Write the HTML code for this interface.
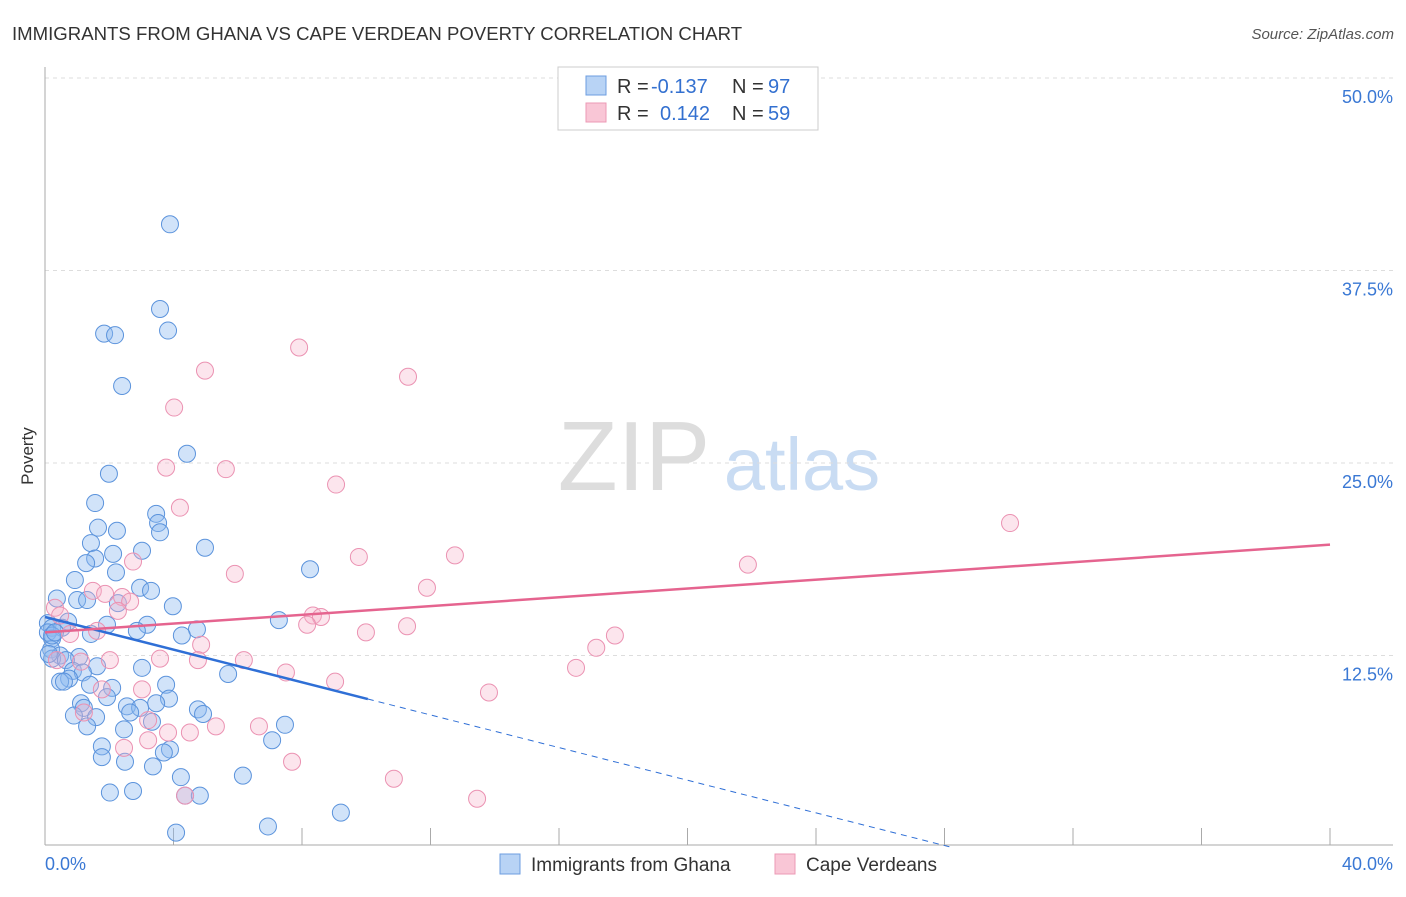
<!DOCTYPE html>
<html><head><meta charset="utf-8"><style>
body{margin:0;background:#fff;font-family:"Liberation Sans",sans-serif;}
svg text{font-family:"Liberation Sans",sans-serif;}
</style></head><body>
<svg id="chart" width="1406" height="892" xmlns="http://www.w3.org/2000/svg">
<text x="12" y="40" font-size="18.6" fill="#333">IMMIGRANTS FROM GHANA VS CAPE VERDEAN POVERTY CORRELATION CHART</text>
<text x="1394" y="39" font-size="15" fill="#555" text-anchor="end" font-style="italic">Source: ZipAtlas.com</text>
<text x="33" y="456" font-size="17" fill="#333" transform="rotate(-90 33 456)" text-anchor="middle">Poverty</text>
<g><text x="634" y="490" font-size="98" fill="#ddd" text-anchor="middle" font-family="Liberation Serif">ZIP</text><text x="802" y="490" font-size="74" fill="#c9dcf3" text-anchor="middle">atlas</text></g>
<g id="grid"></g><g id="ticks"></g><g id="pts"></g><g id="trend"></g>
<g>
<rect x="558" y="67" width="260" height="63" fill="#fff" stroke="#ccc"/>
<rect x="586" y="76" width="20" height="19" fill="#b8d3f5" stroke="#6d9ee0"/>
<rect x="586" y="103" width="20" height="19" fill="#f9c6d6" stroke="#ec9ab5"/>
<text x="617" y="93" font-size="20" fill="#333">R =</text>
<text x="651" y="93" font-size="20" fill="#3370d0">-0.137</text>
<text x="732" y="93" font-size="20" fill="#333">N =</text>
<text x="768" y="93" font-size="20" fill="#3370d0">97</text>
<text x="617" y="120" font-size="20" fill="#333">R =</text>
<text x="660" y="120" font-size="20" fill="#3370d0">0.142</text>
<text x="732" y="120" font-size="20" fill="#333">N =</text>
<text x="768" y="120" font-size="20" fill="#3370d0">59</text>
</g>
<g>
<rect x="500" y="854" width="20" height="20" fill="#b8d3f5" stroke="#6d9ee0"/>
<text x="531" y="871" font-size="19" fill="#333">Immigrants from Ghana</text>
<rect x="775" y="854" width="20" height="20" fill="#f9c6d6" stroke="#ec9ab5"/>
<text x="806" y="871" font-size="19" fill="#333">Cape Verdeans</text>
</g>
<text x="45" y="870" font-size="18" fill="#3a78d4">0.0%</text>
<text x="1393" y="870" font-size="18" fill="#3a78d4" text-anchor="end">40.0%</text>
</svg>
<script>
const yTicks=[50,37.5,25,12.5];
const xTicks=[0,4,8,12,16,20,24,28,32,36,40];
const blueX=[3.89,3.58,3.83,1.84,2.18,2.40,4.42,1.99,1.56,3.46,3.52,1.65,2.24,3.58,1.43,4.98,3.02,2.12,1.56,1.28,8.25,2.21,0.93,2.96,3.30,0.37,1.00,1.31,2.27,3.98,7.28,0.72,0.09,0.22,3.18,1.93,0.53,0.09,2.86,4.73,1.43,4.26,0.22,0.19,0.47,1.06,0.22,0.65,1.62,3.02,0.87,1.18,5.70,0.75,0.47,0.59,1.40,3.77,2.09,1.93,3.86,1.12,3.46,2.55,1.21,2.96,4.76,2.65,4.92,0.90,1.59,3.33,7.47,1.31,2.46,7.07,1.77,3.89,1.77,3.70,2.49,3.36,6.16,4.23,2.02,2.74,4.36,4.82,9.21,6.94,4.08,0.22,0.31,0.12];
const blueY=[40.5,35.0,33.6,33.4,33.3,30.0,25.6,24.3,22.4,21.7,21.1,20.8,20.6,20.5,19.8,19.5,19.3,19.1,18.8,18.5,18.1,17.9,17.4,16.9,16.7,16.2,16.1,16.1,15.9,15.7,14.8,14.7,14.6,14.3,14.5,14.5,14.3,14.0,14.1,14.2,13.9,13.8,13.6,12.9,12.5,12.4,12.3,12.2,11.8,11.7,11.5,11.4,11.3,11.0,10.8,10.8,10.6,10.6,10.4,9.8,9.7,9.4,9.4,9.2,9.1,9.1,9.0,8.8,8.7,8.6,8.5,8.2,8.0,7.9,7.7,7.0,6.6,6.4,5.9,6.2,5.6,5.3,4.7,4.6,3.6,3.7,3.4,3.4,2.3,1.4,1.0,13.8,14.0,12.6];
const pinkX=[7.91,4.98,11.30,4.02,3.77,5.63,9.06,4.20,30.04,12.76,9.77,21.88,5.91,2.74,11.89,1.49,1.87,2.40,2.65,2.27,0.31,8.34,8.59,8.16,11.27,1.62,9.99,17.74,17.16,0.78,4.86,3.58,6.19,2.02,4.76,1.12,16.53,7.50,9.03,13.82,1.77,3.02,1.21,3.21,5.32,6.66,4.51,3.83,3.21,2.46,7.69,10.86,13.45,4.36,0.37,0.47];
const pinkY=[32.5,31.0,30.6,28.6,24.7,24.6,23.6,22.1,21.1,19.0,18.9,18.4,17.8,18.6,16.9,16.7,16.5,16.3,16.0,15.4,15.6,15.1,15.0,14.5,14.4,14.1,14.0,13.8,13.0,13.9,13.2,12.3,12.2,12.2,12.2,12.1,11.7,11.4,10.8,10.1,10.3,10.3,8.8,8.3,7.9,7.9,7.5,7.5,7.0,6.5,5.6,4.5,3.2,3.4,12.2,15.1];
const blueTrend=[15.0,-0.53];
const pinkTrend=[14.0,0.1425];
const X=v=>45+v/40*1285, Y=v=>848-v/50*770;
const NS='http://www.w3.org/2000/svg';
function mk(parent,tag,attrs){const e=document.createElementNS(NS,tag);for(const k in attrs)e.setAttribute(k,attrs[k]);document.getElementById(parent).appendChild(e);return e;}
yTicks.forEach(t=>{
 const l=mk('grid','line',{x1:45,x2:1393,y1:Y(t),y2:Y(t),stroke:'#ddd','stroke-dasharray':'4,4'});
 
 
 const tx=mk('grid','text',{x:1393,y:Y(t)+25,'font-size':18,fill:'#3a78d4','text-anchor':'end'});
 tx.textContent=t.toFixed(1)+'%';
 
 
});
const ax=mk('ticks','line',{x1:45,x2:1393,y1:845,y2:845,stroke:'#aaa'});


const ay=mk('ticks','line',{x1:45,x2:45,y1:67,y2:845,stroke:'#aaa'});


xTicks.forEach(t=>{
 const l=mk('ticks','line',{x1:X(t),x2:X(t),y1:828,y2:845,stroke:'#aaa'});
 
 
});
blueX.forEach((v,i)=>{
 const c=mk('pts','circle',{cx:X(v),cy:Y(blueY[i]),r:8.5,fill:'rgba(140,185,240,0.4)',stroke:'#5b93dc','stroke-width':1});
 
 
});
pinkX.forEach((v,i)=>{
 const c=mk('pts','circle',{cx:X(v),cy:Y(pinkY[i]),r:8.5,fill:'rgba(247,180,204,0.35)',stroke:'#eb92b2','stroke-width':1});
 
 
});
const bx1=10.05, bx2=-blueTrend[0]/blueTrend[1];
const b1=mk('trend','line',{x1:X(0),y1:Y(blueTrend[0]),x2:X(bx1),y2:Y(blueTrend[0]+blueTrend[1]*bx1),stroke:'#2f6fd6','stroke-width':2.5});


const b2=mk('trend','line',{x1:X(bx1),y1:Y(blueTrend[0]+blueTrend[1]*bx1),x2:X(bx2),y2:Y(0),stroke:'#2f6fd6','stroke-width':1,'stroke-dasharray':'6,5'});


const p1=mk('trend','line',{x1:X(0),y1:Y(pinkTrend[0]),x2:X(40),y2:Y(pinkTrend[0]+pinkTrend[1]*40),stroke:'#e5648f','stroke-width':2.5});


</script>
</body></html>
